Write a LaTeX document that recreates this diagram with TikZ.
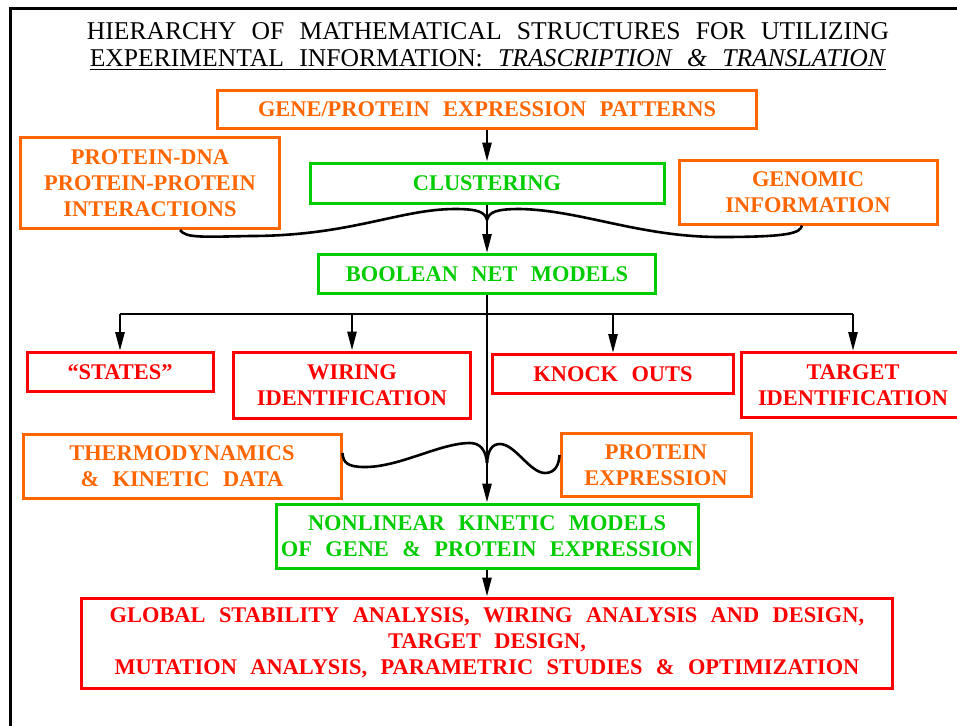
\documentclass[tikz,border=0pt]{standalone}
\usepackage{fontspec}
\setmainfont{Liberation Serif}
\newfontfamily\boxfont[WordSpace=1.5]{Liberation Serif}
\newfontfamily\titlefont[WordSpace=2.4]{Liberation Serif}
\usepackage{xcolor}
\usepackage{tikz}
\usetikzlibrary{positioning,arrows.meta,calc}

\definecolor{dataorange}{RGB}{255,102,0}
\definecolor{modelgreen}{RGB}{0,204,0}
\definecolor{goalred}{RGB}{255,0,0}

\begin{document}
\begin{tikzpicture}[x=0.5pt,y=-0.5pt,
    box/.style={line width=1.5pt, align=center, inner sep=0pt,
                font=\boxfont\bfseries\fontsize{11.2}{13}\selectfont},
    databox/.style={box, draw=dataorange, text=dataorange},
    modelbox/.style={box, draw=modelgreen, text=modelgreen},
    goalbox/.style={box, draw=goalred, text=goalred},
    heading/.style={inner sep=0pt, font=\titlefont\fontsize{12.8}{15}\selectfont},
    link/.style={line width=1.3pt},
    flow/.style={line width=1.3pt, -{Triangle[length=9.5pt,width=4.5pt]}}]
    \useasboundingbox (0,0) rectangle (957,725);

    % frame
    \draw[line width=1.5pt] (10,730) -- (10,8) -- (965,8);

    \node[heading] (title1) at (488,31) {HIERARCHY OF MATHEMATICAL STRUCTURES FOR UTILIZING};
    \node[heading] (title2) at (488,60) {\underline{EXPERIMENTAL INFORMATION: \textit{TRASCRIPTION \& TRANSLATION}}};

    % data and models
    \node[databox, minimum width=269.5pt, minimum height=19pt] (gene) at (487,109) {GENE/PROTEIN EXPRESSION PATTERNS};
    \node[databox, minimum width=129.5pt, minimum height=45.5pt] (pdna) at (150,183) {PROTEIN-DNA\\PROTEIN-PROTEIN\\INTERACTIONS};
    \node[modelbox, minimum width=177pt, minimum height=20pt] (clust) at (487,183) {CLUSTERING};
    \node[databox, minimum width=129pt, minimum height=32pt] (genomic) at (808,192) {GENOMIC\\INFORMATION};
    \node[modelbox, minimum width=168.5pt, minimum height=19.5pt] (boolean) at (487,274) {BOOLEAN NET MODELS};

    % uses of the boolean models
    \node[goalbox, minimum width=93pt, minimum height=19.5pt] (states) at (120,372) {“STATES”};
    \node[goalbox, minimum width=118.5pt, minimum height=33pt] (wiring) at (352,385) {WIRING\\IDENTIFICATION};
    \node[goalbox, minimum width=120.5pt, minimum height=19.5pt] (knock) at (613,374) {KNOCK OUTS};
    \node[goalbox, minimum width=112pt, minimum height=32.5pt] (target) at (853,385) {TARGET\\IDENTIFICATION};

    \node[databox, minimum width=159pt, minimum height=32pt] (thermo) at (182,466) {THERMODYNAMICS\\\& KINETIC DATA};
    \node[databox, minimum width=95pt, minimum height=31.5pt] (protexp) at (656,465) {PROTEIN\\EXPRESSION};
    \node[modelbox, minimum width=211pt, minimum height=32pt] (nonlin) at (487,536) {NONLINEAR KINETIC MODELS\\OF GENE \& PROTEIN EXPRESSION};
    \node[goalbox, minimum width=405.5pt, minimum height=45pt] (global) at (487,643) {GLOBAL STABILITY ANALYSIS, WIRING ANALYSIS AND DESIGN,\\TARGET DESIGN,\\MUTATION ANALYSIS, PARAMETRIC STUDIES \& OPTIMIZATION};

    \coordinate (tip1) at (487,220);
    \coordinate (bus) at (487,314);
    \coordinate (tip2) at (487,463);

    \draw[flow] (gene) -- (clust);
    \draw[flow] (clust) -- (boolean);

    % upper brace
    \draw[link] ([xshift=15pt]pdna.south) .. controls (186,238) and (200,237) .. (250,236)
        .. controls (350,236) and (400,209) .. (455,209)
        .. controls (478,209) and (485,212) .. (tip1);
    \draw[link] (tip1) .. controls (489,212) and (496,209) .. (520,209)
        .. controls (580,210) and (640,237) .. (720,237)
        .. controls (790,237) and (800,233) .. ([xshift=-3pt]genomic.south);

    % branches
    \draw[link] (boolean) -- (tip2);
    \draw[link] (states.north |- bus) -- (target.north |- bus);
    \foreach \n in {states, wiring, knock, target}
        \draw[flow] (\n.north |- bus) -- (\n.north);

    % lower brace
    \draw[link] ([yshift=6.5pt]thermo.east) .. controls (343,463) and (348,467) .. (365,467)
        .. controls (400,467) and (440,443) .. (470,443)
        .. controls (480,443) and (486,450) .. (tip2);
    \draw[link] (tip2) .. controls (488,450) and (492,444) .. (500,444)
        .. controls (515,444) and (530,473) .. (545,473)
        .. controls (555,473) and (559,465) .. ([yshift=5pt]protexp.west);

    \draw[flow] (tip2) -- (nonlin);
    \draw[flow] (nonlin) -- (global);
\end{tikzpicture}
\end{document}
